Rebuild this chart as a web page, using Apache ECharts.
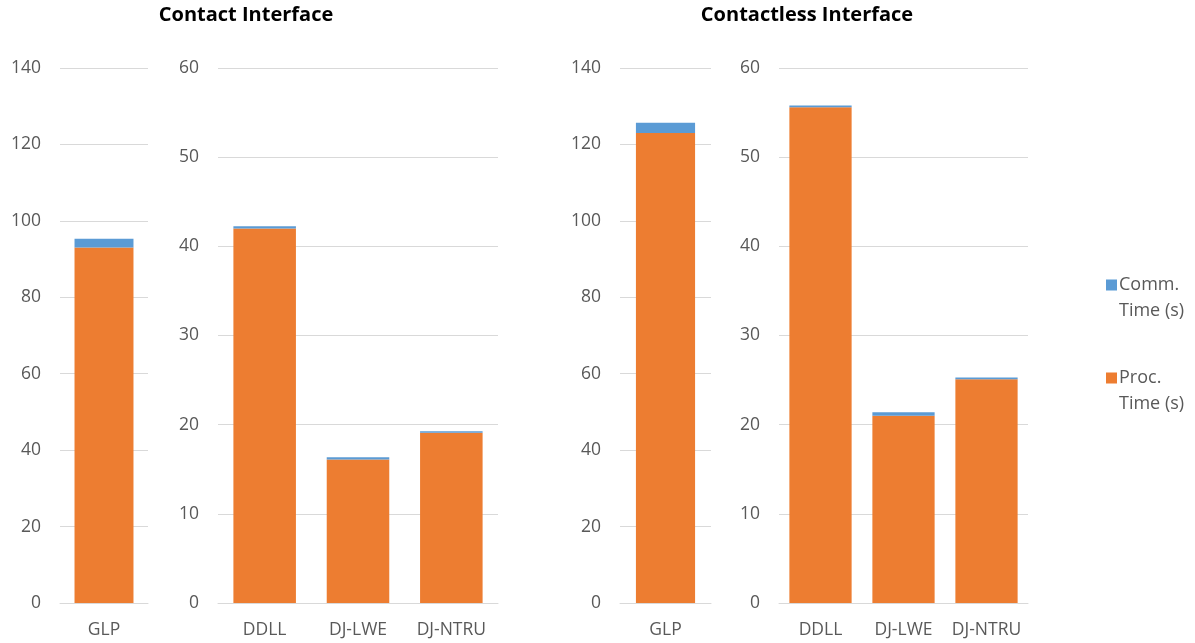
<!DOCTYPE html>
<html>
<head>
<meta charset="utf-8">
<script src="https://cdn.jsdelivr.net/npm/echarts@6/dist/echarts.min.js"></script>
<style>
  html, body { margin: 0; padding: 0; background: #fff; }
  #chart { width: 1195px; height: 643px; }
</style>
</head>
<body>
<div id="chart"></div>
<script>
// Timings split into GLP (own scale) and the other schemes (0-60 scale)
const glpCategory = ['GLP'];
const otherCategories = ['DDLL', 'DJ-LWE', 'DJ-NTRU'];

const contactGlpProc = [93.0];
const contactGlpComm = [2.3];
const contactOtherProc = [42.0, 16.1, 19.1];
const contactOtherComm = [0.25, 0.25, 0.15];

const contactlessGlpProc = [123.0];
const contactlessGlpComm = [2.7];
const contactlessOtherProc = [55.6, 21.0, 25.1];
const contactlessOtherComm = [0.2, 0.4, 0.2];

const titles = ['Contact Interface', 'Contactless Interface'];
const seriesNames = ['Comm. Time (s)', 'Proc. Time (s)'];

const COMM = '#5B9BD5';
const PROC = '#ED7D31';
const FONT = '"Open Sans", "Liberation Sans", sans-serif';
const TEXT = '#595959';
const GRIDLINE = '#D9D9D9';
const LEGEND_LINE = 26;

const grids = [
  { left: 60, width: 88, top: 68, bottom: 40 },
  { left: 218, width: 280, top: 68, bottom: 40 },
  { left: 620, width: 91, top: 68, bottom: 40 },
  { left: 779, width: 249, top: 68, bottom: 40 }
];

function xAxis(idx, cats) {
  return {
    type: 'category', gridIndex: idx, data: cats,
    axisTick: { show: false },
    axisLine: { lineStyle: { color: GRIDLINE, width: 1 } },
    axisLabel: { color: TEXT, fontSize: 17.5, fontFamily: FONT, margin: 18, interval: 0 }
  };
}
function yAxis(idx, max, interval) {
  return {
    type: 'value', gridIndex: idx, min: 0, max: max, interval: interval,
    axisLine: { show: false }, axisTick: { show: false },
    splitLine: { lineStyle: { color: GRIDLINE, width: 1 } },
    axisLabel: { color: TEXT, fontSize: 17.5, fontFamily: FONT, margin: 19 }
  };
}
function pair(idx, proc, comm, gap) {
  const stack = 's' + idx;
  return [
    { name: seriesNames[1], type: 'bar', stack: stack, xAxisIndex: idx, yAxisIndex: idx,
      data: proc, barCategoryGap: gap, itemStyle: { color: PROC } },
    { name: seriesNames[0], type: 'bar', stack: stack, xAxisIndex: idx, yAxisIndex: idx,
      data: comm, barCategoryGap: gap, itemStyle: { color: COMM } }
  ];
}

// Legend swatch: an 11px square on top of an empty box, so it lines up with the first text line
const swatch = 'path://M0,0L11,0L11,11L0,11Z M0,' + (LEGEND_LINE + 11) + 'L11,' + (LEGEND_LINE + 11) + 'Z';

const chart = echarts.init(document.getElementById('chart'));
chart.setOption({
  animation: false,
  textStyle: { fontFamily: FONT },
  title: [
    { text: titles[0], left: 241, top: 0, textAlign: 'center',
      textStyle: { fontSize: 20, fontWeight: 'bold', color: '#000', fontFamily: FONT } },
    { text: titles[1], left: 802, top: 0, textAlign: 'center',
      textStyle: { fontSize: 20, fontWeight: 'bold', color: '#000', fontFamily: FONT } }
  ],
  legend: {
    orient: 'vertical', left: 1101, top: 267, itemGap: 41,
    itemWidth: 11, itemHeight: LEGEND_LINE + 11, icon: swatch,
    data: seriesNames,
    formatter: function (n) { return n.replace(' Time', '\nTime'); },
    textStyle: { color: TEXT, fontSize: 18, fontFamily: FONT, lineHeight: LEGEND_LINE, padding: [0, 0, 0, -3] }
  },
  grid: grids,
  xAxis: [xAxis(0, glpCategory), xAxis(1, otherCategories), xAxis(2, glpCategory), xAxis(3, otherCategories)],
  yAxis: [yAxis(0, 140, 20), yAxis(1, 60, 10), yAxis(2, 140, 20), yAxis(3, 60, 10)],
  series: [].concat(
    pair(0, contactGlpProc, contactGlpComm, '33%'),
    pair(1, contactOtherProc, contactOtherComm, '33%'),
    pair(2, contactlessGlpProc, contactlessGlpComm, '35%'),
    pair(3, contactlessOtherProc, contactlessOtherComm, '25%')
  )
});
</script>
</body>
</html>
